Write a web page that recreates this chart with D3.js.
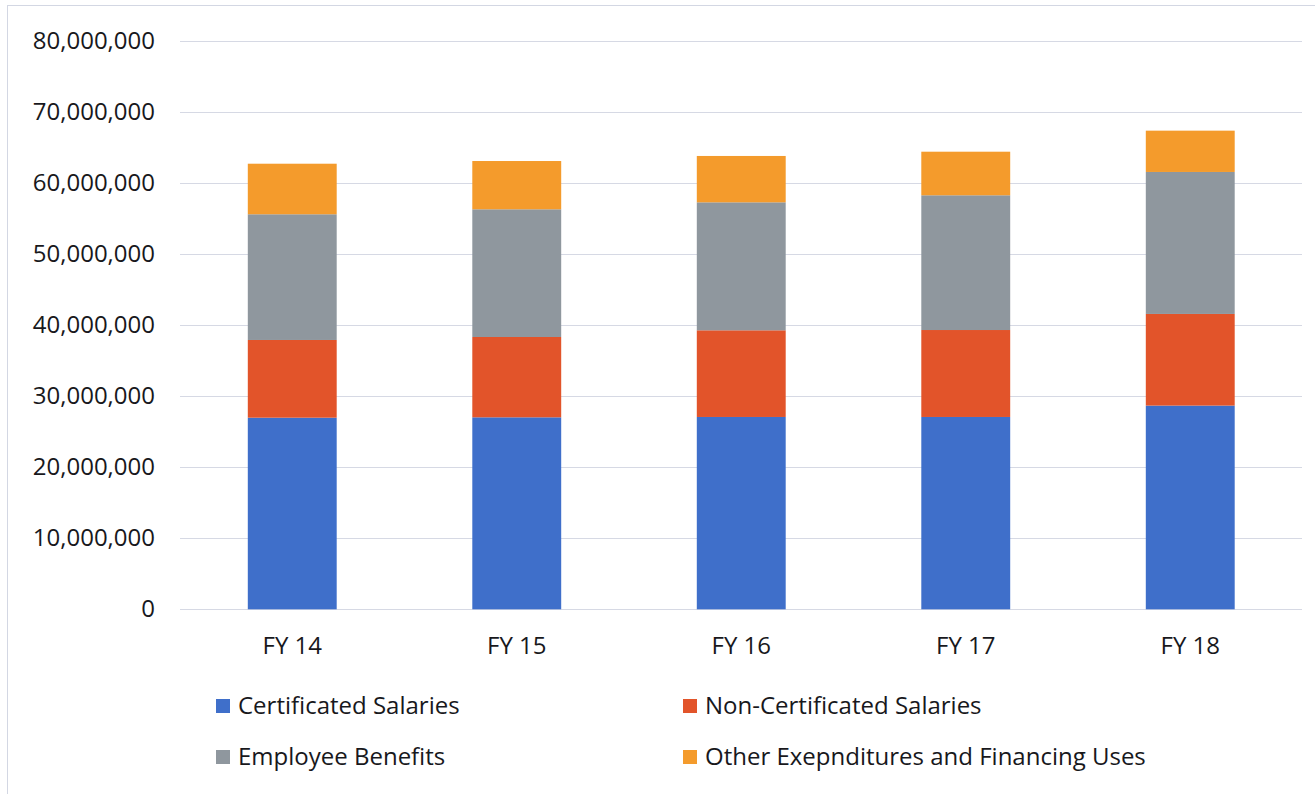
<!DOCTYPE html>
<html>
<head>
<meta charset="utf-8">
<script src="https://cdn.jsdelivr.net/npm/d3@7"></script>
<style>
  body { margin: 0; background: #fff; }
  svg { display: block; font-family: "Open Sans", sans-serif; }
</style>
</head>
<body>
<svg id="chart" width="1315" height="794"></svg>
<script>
// values
const years = ["FY 14", "FY 15", "FY 16", "FY 17", "FY 18"];
const certificatedSalaries = [26950000, 27000000, 27050000, 27050000, 28650000];
const nonCertificatedSalaries = [10930000, 11300000, 12190000, 12230000, 12890000];
const employeeBenefits = [17680000, 17960000, 18000000, 18950000, 19970000];
const otherExpenditures = [7110000, 6790000, 6520000, 6130000, 5810000];
const yTicks = [0, 10000000, 20000000, 30000000, 40000000, 50000000, 60000000, 70000000, 80000000];
const seriesNames = ["Certificated Salaries", "Non-Certificated Salaries", "Employee Benefits", "Other Exepnditures and Financing Uses"];
const colors = ["#3f6fca", "#e2542a", "#8f979e", "#f49b2c"];

const keys = ["cert", "noncert", "benefits", "other"];
const data = years.map((y, i) => ({
  year: y,
  cert: certificatedSalaries[i],
  noncert: nonCertificatedSalaries[i],
  benefits: employeeBenefits[i],
  other: otherExpenditures[i]
}));

const svg = d3.select("#chart");

// chart border
svg.append("rect")
  .attr("x", 7.5).attr("y", 5.5)
  .attr("width", 1330).attr("height", 800)
  .attr("fill", "none")
  .attr("stroke", "#d3d7e3");

const x = d3.scaleBand()
  .domain(years)
  .range([180, 1302.5])
  .paddingInner(0.604)
  .paddingOuter(0.302);

const y = d3.scaleLinear()
  .domain([0, 80000000])
  .range([609.3, 40.5]);

const color = d3.scaleOrdinal().domain(keys).range(colors);

// gridlines
svg.append("g")
  .selectAll("line")
  .data(yTicks)
  .join("line")
  .attr("x1", 180).attr("x2", 1302)
  .attr("y1", d => Math.round(y(d)) + 0.5)
  .attr("y2", d => Math.round(y(d)) + 0.5)
  .attr("stroke", "#d6d9e4")
  .attr("stroke-width", 1);

// y axis labels
const yAxis = g => g
  .attr("transform", "translate(155,0)")
  .call(d3.axisLeft(y).tickValues(yTicks).tickFormat(d3.format(",")).tickSize(0).tickPadding(0))
  .call(g => g.select(".domain").remove())
  .call(g => g.selectAll("text")
    .attr("font-family", "Open Sans")
    .attr("font-size", 24)
    .attr("fill", "#18181c"));

// stacked bars
const stacked = d3.stack().keys(keys)(data);

svg.append("g")
  .selectAll("g")
  .data(stacked)
  .join("g")
  .attr("fill", d => color(d.key))
  .selectAll("rect")
  .data(d => d)
  .join("rect")
  .attr("x", d => x(d.data.year))
  .attr("y", d => y(d[1]))
  .attr("width", x.bandwidth())
  .attr("height", d => y(d[0]) - y(d[1]));

svg.append("g").call(yAxis);

// x axis labels
const xAxis = g => g
  .attr("transform", "translate(0,637)")
  .call(d3.axisBottom(x).tickSize(0).tickPadding(0))
  .call(g => g.select(".domain").remove())
  .call(g => g.selectAll("text")
    .attr("font-family", "Open Sans")
    .attr("font-size", 24)
    .attr("fill", "#18181c"));

svg.append("g").call(xAxis);

// legend
const legendPos = [
  { x: 216, y: 706 },
  { x: 683, y: 706 },
  { x: 216, y: 757 },
  { x: 683, y: 757 }
];

const legend = svg.append("g")
  .selectAll("g")
  .data(seriesNames)
  .join("g")
  .attr("transform", (d, i) => `translate(${legendPos[i].x},${legendPos[i].y})`);

legend.append("rect")
  .attr("x", 0).attr("y", -7)
  .attr("width", 14).attr("height", 14)
  .attr("fill", (d, i) => colors[i]);

legend.append("text")
  .attr("x", 22)
  .attr("dy", "0.35em")
  .attr("font-size", 24)
  .attr("fill", "#18181c")
  .text(d => d);
</script>
</body>
</html>
